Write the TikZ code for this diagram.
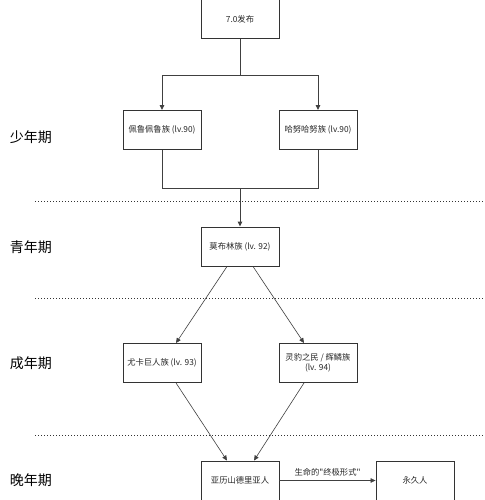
\documentclass[tikz,border=0pt]{standalone}
\usepackage{fontspec}
\newfontfamily\cjk{Noto Sans CJK SC}
\usetikzlibrary{positioning, arrows.meta}

\begin{document}
\begin{tikzpicture}[
    x=1pt, y=-1pt,
    line width=0.9pt,
    every node/.style={font=\cjk},
    box/.style={draw=black!80, minimum width=78pt, minimum height=39pt,
        inner sep=2pt, align=center, text=black!85,
        font=\cjk\fontsize{8.3}{10.5}\selectfont},
    stage/.style={anchor=west, font=\cjk\fontsize{14}{16}\selectfont},
    arr/.style={draw=black!75, -{Triangle[length=5pt, width=4.5pt]}},
    link/.style={draw=black!75},
    sep/.style={draw=black!80, line width=1pt, dash pattern=on 1pt off 2pt}
]
    \useasboundingbox (0,0) rectangle (484,500);

    % stage labels on the left:
    \node[stage] (s1) at (6,137) {少年期};
    \node[stage] (s2) at (6,247) {青年期};
    \node[stage] (s3) at (6,363) {成年期};
    \node[stage] (s4) at (6,480) {晚年期};

    % separators between stages:
    \draw[sep] (35,201) -- (484,201);
    \draw[sep] (35,298) -- (484,298);
    \draw[sep] (35,435) -- (484,435);

    % races:
    \node[box] (rel) at (240,19) {7.0发布};
    \node[box] (pelu) at (162,130) {佩鲁佩鲁族 (lv.90)};
    \node[box] (hanu) at (318,130) {哈努哈努族 (lv.90)};
    \node[box] (mob) at (240,246.5) {莫布林族 (lv. 92)};
    \node[box] (yuka) at (162,363) {尤卡巨人族 (lv. 93)};
    \node[box] (ling) at (318,363) {灵豹之民 / 辉鳞族\\(lv. 94)};
    \node[box] (alex) at (240,480.5) {亚历山德里亚人};
    \node[box] (eter) at (415,480.5) {永久人};

    \coordinate (split) at (240,75);
    \coordinate (join) at (240,188);

    \draw[link] (rel.south) -- (split);
    \draw[arr] (split) -| (pelu.north);
    \draw[arr] (split) -| (hanu.north);
    \draw[link] (pelu.south) |- (join);
    \draw[link] (hanu.south) |- (join);
    \draw[arr] (join) -- (mob.north);

    \draw[arr, line width=0.6pt] ([xshift=-13pt]mob.south) -- ([xshift=14pt]yuka.north);
    \draw[arr, line width=0.6pt] ([xshift=13pt]mob.south) -- ([xshift=-14pt]ling.north);
    \draw[arr, line width=0.6pt] ([xshift=14pt]yuka.south) -- ([xshift=-13pt]alex.north);
    \draw[arr, line width=0.6pt] ([xshift=-14pt]ling.south) -- ([xshift=14pt]alex.north);
    \draw[arr, line width=0.6pt] (alex) -- node[above, yshift=1pt,
        text=black!85, font=\cjk\fontsize{8.3}{10}\selectfont] {生命的"终极形式"} (eter);
\end{tikzpicture}
\end{document}
